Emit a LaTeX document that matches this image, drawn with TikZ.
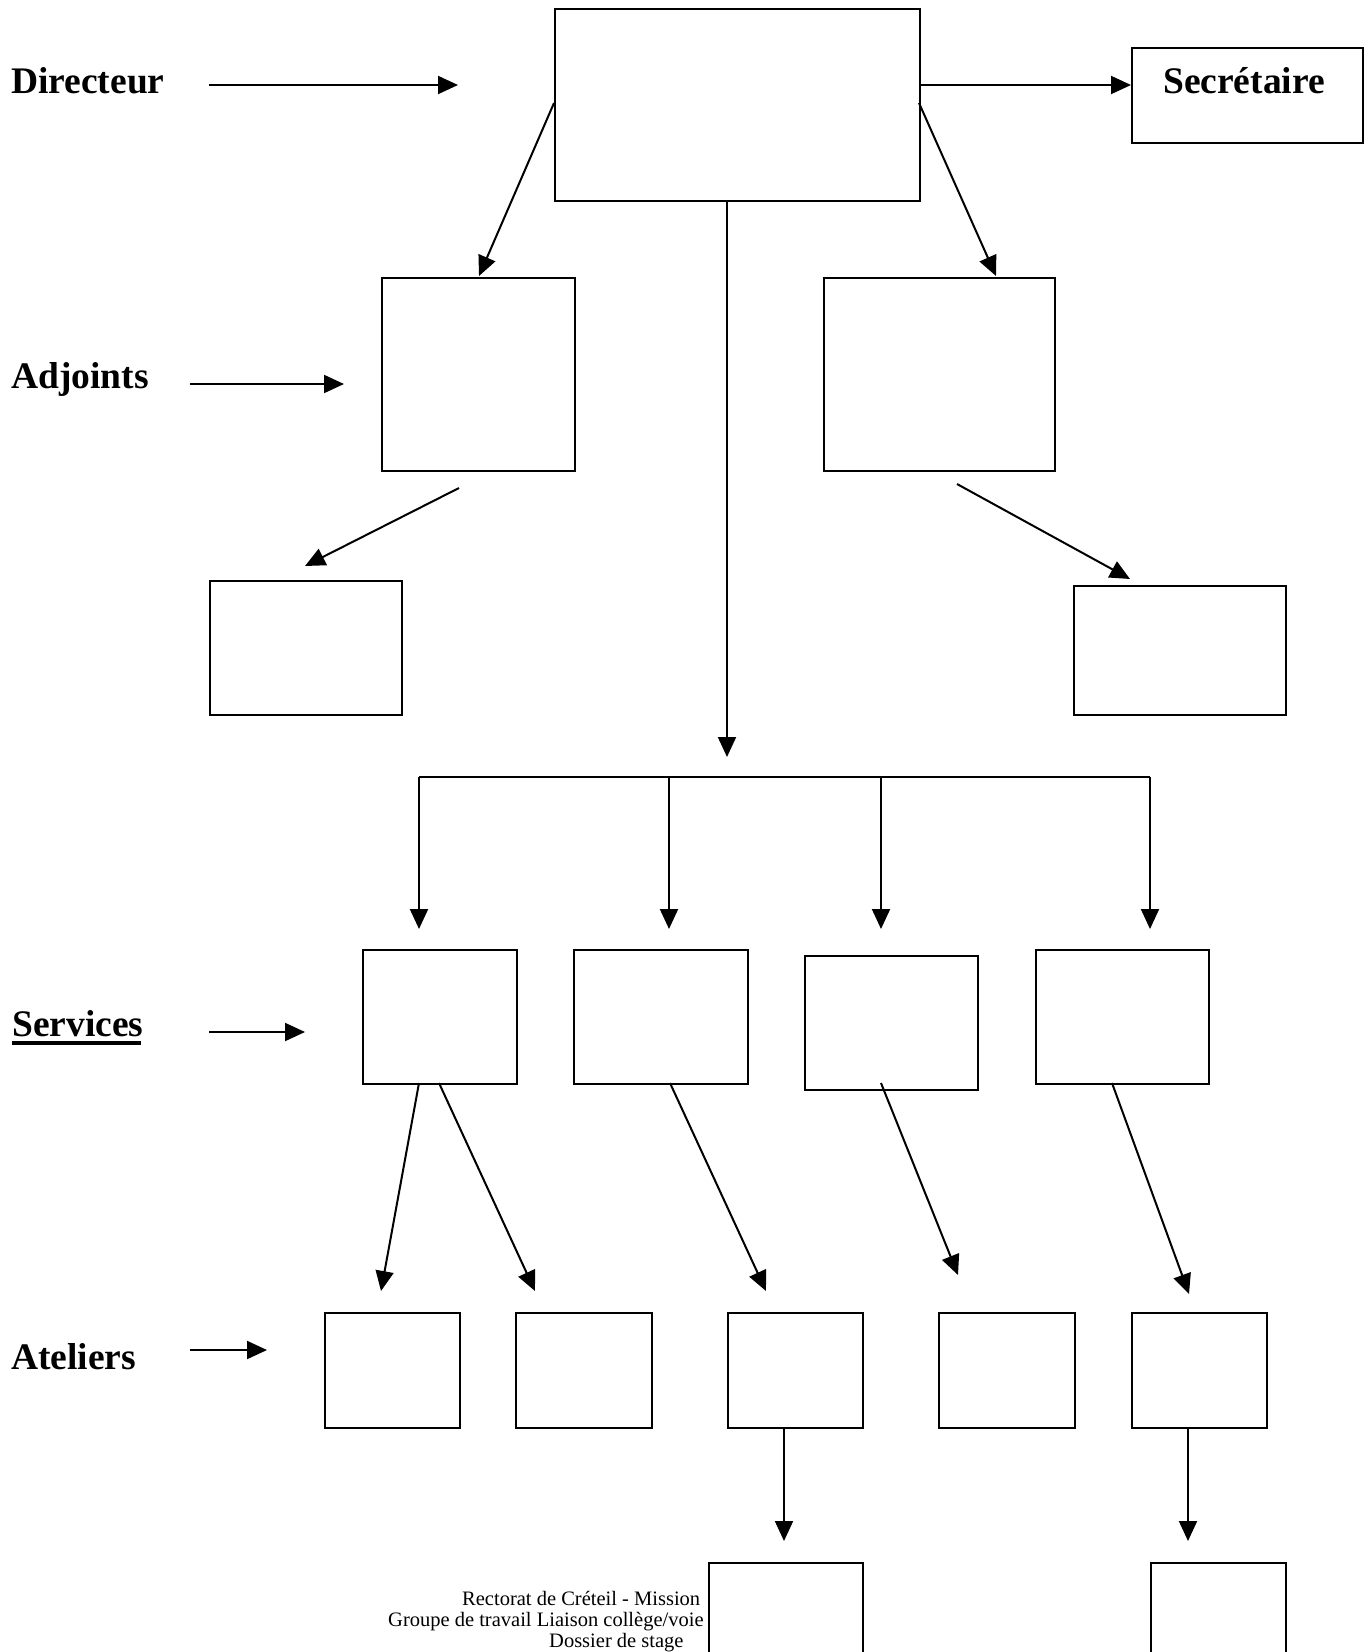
\documentclass[tikz,border=0pt]{standalone}
\usepackage{fontspec}
\setmainfont{Liberation Serif}
\usetikzlibrary{arrows.meta}
\begin{document}
\begin{tikzpicture}[x=1pt,y=-1pt,
  box/.style={draw=black,line width=2pt,fill=white,anchor=north west,inner sep=0pt},
  arr/.style={line width=2pt,-{Triangle[length=20pt,width=18pt]}},
  ln/.style={line width=2pt},
  lab/.style={font=\fontsize{37.5}{44}\selectfont\bfseries,anchor=base west,inner sep=0pt},
  foot/.style={font=\fontsize{20.5}{22}\selectfont,inner sep=0pt}]
\useasboundingbox (0,0) rectangle (1370,1652);
\fill[white] (0,0) rectangle (1370,1652);
% labels
\node[lab] (tdir) at (11,93) {Directeur};
\node[lab] (tadj) at (11,388) {Adjoints};
\node[lab] (tser) at (12,1036) {Services};
\draw[line width=4pt] (12,1043) -- (141,1043);
\node[lab] (tate) at (11,1369) {Ateliers};
% footer text
\node[foot,anchor=base west] (f1) at (462,1605) {Rectorat de Créteil - Mission};
\node[foot,anchor=base west] (f2) at (388,1626) {Groupe de travail Liaison collège/voie};
\node[foot,anchor=base west] (f3) at (549,1647) {Dossier de stage};
% boxes
\node[box,minimum width=365pt,minimum height=192pt] (dir) at (554,8) {};
\node[box,minimum width=231pt,minimum height=95pt] (sec) at (1131,47) {};
\node[lab,anchor=base] (tsec) at (1244,93) {Secrétaire};
\node[box,minimum width=193pt,minimum height=193pt] (adjL) at (381,277) {};
\node[box,minimum width=231pt,minimum height=193pt] (adjR) at (823,277) {};
\node[box,minimum width=192pt,minimum height=134pt] (subL) at (209,580) {};
\node[box,minimum width=212pt,minimum height=129pt] (subR) at (1073,585) {};
\node[box,minimum width=154pt,minimum height=134pt] (s1) at (362,949) {};
\node[box,minimum width=174pt,minimum height=134pt] (s2) at (573,949) {};
\node[box,minimum width=173pt,minimum height=134pt] (s3) at (804,955) {};
\node[box,minimum width=173pt,minimum height=134pt] (s4) at (1035,949) {};
\node[box,minimum width=135pt,minimum height=115pt] (a1) at (324,1312) {};
\node[box,minimum width=136pt,minimum height=115pt] (a2) at (515,1312) {};
\node[box,minimum width=135pt,minimum height=115pt] (a3) at (727,1312) {};
\node[box,minimum width=136pt,minimum height=115pt] (a4) at (938,1312) {};
\node[box,minimum width=135pt,minimum height=115pt] (a5) at (1131,1312) {};
\node[box,minimum width=154pt,minimum height=140pt] (b1) at (708,1562) {};
\node[box,minimum width=135pt,minimum height=140pt] (b2) at (1150,1562) {};
% coordinates
\coordinate (p1) at (209,85); \coordinate (p2) at (458,85);
\coordinate (p3) at (919,85); \coordinate (p4) at (1131,85);
\coordinate (p5) at (554,103); \coordinate (p6) at (479,276);
\coordinate (p7) at (919,103); \coordinate (p8) at (996,276);
\coordinate (p9) at (727,200); \coordinate (p10) at (727,757);
\coordinate (p11) at (190,384); \coordinate (p12) at (344,384);
\coordinate (p13) at (459,488); \coordinate (p14) at (305,566);
\coordinate (p15) at (957,484); \coordinate (p16) at (1130,579);
\coordinate (b0) at (419,777); \coordinate (bb) at (669,777);
\coordinate (bc) at (881,777); \coordinate (bd) at (1150,777);
\coordinate (d1) at (419,929); \coordinate (d2) at (669,929);
\coordinate (d3) at (881,929); \coordinate (d4) at (1150,929);
\coordinate (q1) at (209,1032); \coordinate (q2) at (305,1032);
\coordinate (r1) at (419,1083); \coordinate (r2) at (381,1291);
\coordinate (r3) at (439,1083); \coordinate (r4) at (535,1291);
\coordinate (r5) at (670,1083); \coordinate (r6) at (766,1291);
\coordinate (r7) at (881,1083); \coordinate (r8) at (958,1275);
\coordinate (r9) at (1112,1083); \coordinate (r10) at (1189,1294);
\coordinate (t1) at (190,1350); \coordinate (t2) at (267,1350);
\coordinate (u1) at (784,1427); \coordinate (u2) at (784,1541);
\coordinate (u3) at (1188,1429); \coordinate (u4) at (1188,1541);
% connectors
\draw[arr] (p1) -- (p2);
\draw[arr] (p3) -- (p4);
\draw[arr] (p5) -- (p6);
\draw[arr] (p7) -- (p8);
\draw[arr] (p9) -- (p10);
\draw[arr] (p11) -- (p12);
\draw[arr] (p13) -- (p14);
\draw[arr] (p15) -- (p16);
\draw[ln] (b0) -- (bd);
\draw[arr] (b0) -- (d1);
\draw[arr] (bb) -- (d2);
\draw[arr] (bc) -- (d3);
\draw[arr] (bd) -- (d4);
\draw[arr] (q1) -- (q2);
\draw[arr] (r1) -- (r2);
\draw[arr] (r3) -- (r4);
\draw[arr] (r5) -- (r6);
\draw[arr] (r7) -- (r8);
\draw[arr] (r9) -- (r10);
\draw[arr] (t1) -- (t2);
\draw[arr] (u1) -- (u2);
\draw[arr] (u3) -- (u4);
\end{tikzpicture}
\end{document}
